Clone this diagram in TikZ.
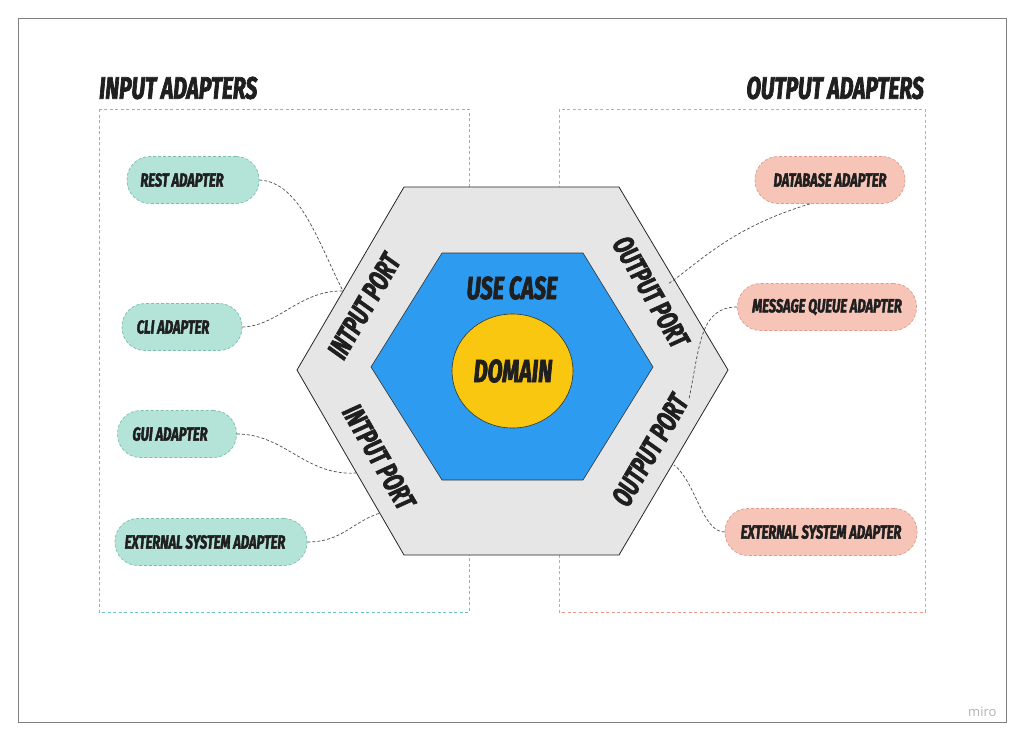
\documentclass[tikz,border=0pt]{standalone}
\usepackage{fontspec}
\newfontfamily\comic[FakeStretch=0.68,FakeBold=2.2]{Fira Sans}
\newfontfamily\plainsans{Open Sans}
\begin{document}
\begin{tikzpicture}[x=1pt,y=-1pt,
  txt/.style={text=black!88,font=\comic\bfseries\itshape,inner sep=0pt},
  title/.style={txt,font=\comic\fontsize{31}{31}\selectfont\bfseries\itshape},
  portlbl/.style={txt,font=\comic\fontsize{29}{29}\selectfont\bfseries\itshape},
  corelbl/.style={txt,font=\comic\fontsize{32}{32}\selectfont\bfseries\itshape},
  pill/.style={txt,font=\comic\fontsize{19}{19}\selectfont\bfseries\itshape,
    draw,dash pattern=on 3pt off 2pt,line width=0.7pt,
    minimum height=47pt,rounded corners=23pt},
  inpill/.style={pill,fill=inFill,draw=inLine},
  outpill/.style={pill,fill=outFill,draw=outLine},
  link/.style={draw=black!70,line width=0.7pt,dash pattern=on 3pt off 2pt},
  group/.style={line width=0.8pt,dash pattern=on 3pt off 2.5pt}
]
\definecolor{inFill}{HTML}{B4E3D8}
\definecolor{inLine}{HTML}{7CBDB0}
\definecolor{outFill}{HTML}{F7C4B8}
\definecolor{outLine}{HTML}{DE9A8C}
\definecolor{inBox}{HTML}{6CC3C0}
\definecolor{outBox}{HTML}{EE9A8C}
\definecolor{hexGray}{HTML}{E6E6E6}
\definecolor{caseBlue}{HTML}{2D9BF0}
\definecolor{domYellow}{HTML}{FAC710}

\useasboundingbox (0,0) rectangle (1024,742);
\fill[white] (0,0) rectangle (1024,742);
% frame
\draw[black!50,line width=0.9pt] (18,18) rectangle (1006,722);
\node[text=black!30,font=\plainsans\fontsize{13}{13}\selectfont,anchor=east] (brand) at (1000,712) {miro};

% adapter groups
\draw[group,draw=inBox] (99,109) rectangle (469,612);
\draw[group,draw=outBox] (559,109) rectangle (925,612);
\node[title,anchor=west] (intitle) at (99,88) {INPUT ADAPTERS};
\node[title,anchor=east] (outtitle) at (924,88) {OUTPUT ADAPTERS};

% application hexagon
\coordinate (hL) at (297,370);
\coordinate (hTL) at (404,187);
\coordinate (hTR) at (619,187);
\coordinate (hR) at (728,370);
\coordinate (hBR) at (619,555);
\coordinate (hBL) at (404,555);
\draw[fill=hexGray,draw=black!85,line width=0.8pt] (hL) -- (hTL) -- (hTR) -- (hR) -- (hBR) -- (hBL) -- cycle;

% use case hexagon
\draw[fill=caseBlue,draw=black!80,line width=0.6pt] (371,367) -- (442,253) -- (583,253) -- (653,367) -- (583,480) -- (442,480) -- cycle;
\node[corelbl] (usecase) at (512,288) {USE CASE};

% domain
\draw[fill=domYellow,draw=black!80,line width=0.6pt] (512.5,371) ellipse [x radius=60.5,y radius=57];
\node[corelbl] (domain) at (513,371) {DOMAIN};

% port labels
\node[portlbl,rotate=60] (inport1) at (364,306) {INTPUT PORT};
\node[portlbl,rotate=-60] (inport2) at (379,457) {INTPUT PORT};
\node[portlbl,rotate=-60] (outport1) at (651,292) {OUTPUT PORT};
\node[portlbl,rotate=60] (outport2) at (650,450) {OUTPUT PORT};

% input adapters (labels sit a little left of centre)
\node[inpill,minimum width=132pt] (rest) at (193,180) {REST ADAPTER\hspace*{22pt}};
\node[inpill,minimum width=120pt] (cli) at (182,327) {CLI ADAPTER\hspace*{18pt}};
\node[inpill,minimum width=119pt] (gui) at (177,434) {GUI ADAPTER\hspace*{14pt}};
\node[inpill,minimum width=192pt] (extin) at (211,542) {EXTERNAL SYSTEM ADAPTER\hspace*{12pt}};

% output adapters
\node[outpill,minimum width=150pt] (db) at (830,180) {DATABASE ADAPTER};
\node[outpill,minimum width=179pt] (mq) at (827,307) {MESSAGE QUEUE ADAPTER};
\node[outpill,minimum width=192pt] (extout) at (821,532) {EXTERNAL SYSTEM ADAPTER};

% connection points on the ports
\coordinate (pA) at (343,291);
\coordinate (pB) at (356,473);
\coordinate (pC) at (380,513);
\coordinate (pD) at (668,284);
\coordinate (pE) at (689,399);
\coordinate (pF) at (674,465);

% connectors
\path[link] (rest.east) .. controls (300,182) and (318,242) .. (pA);
\path[link] (cli.east) .. controls (278,326) and (300,290) .. (pA);
\path[link] (gui.east) .. controls (285,434) and (305,476) .. (pB);
\path[link] (extin.east) .. controls (342,542) and (352,522) .. (pC);
\path[link] (db.-130) .. controls (730,228) and (700,262) .. (pD);
\path[link] (mq.west) .. controls (700,307) and (700,345) .. (pE);
\path[link] (extout.west) .. controls (702,532) and (696,482) .. (pF);
\end{tikzpicture}
\end{document}
